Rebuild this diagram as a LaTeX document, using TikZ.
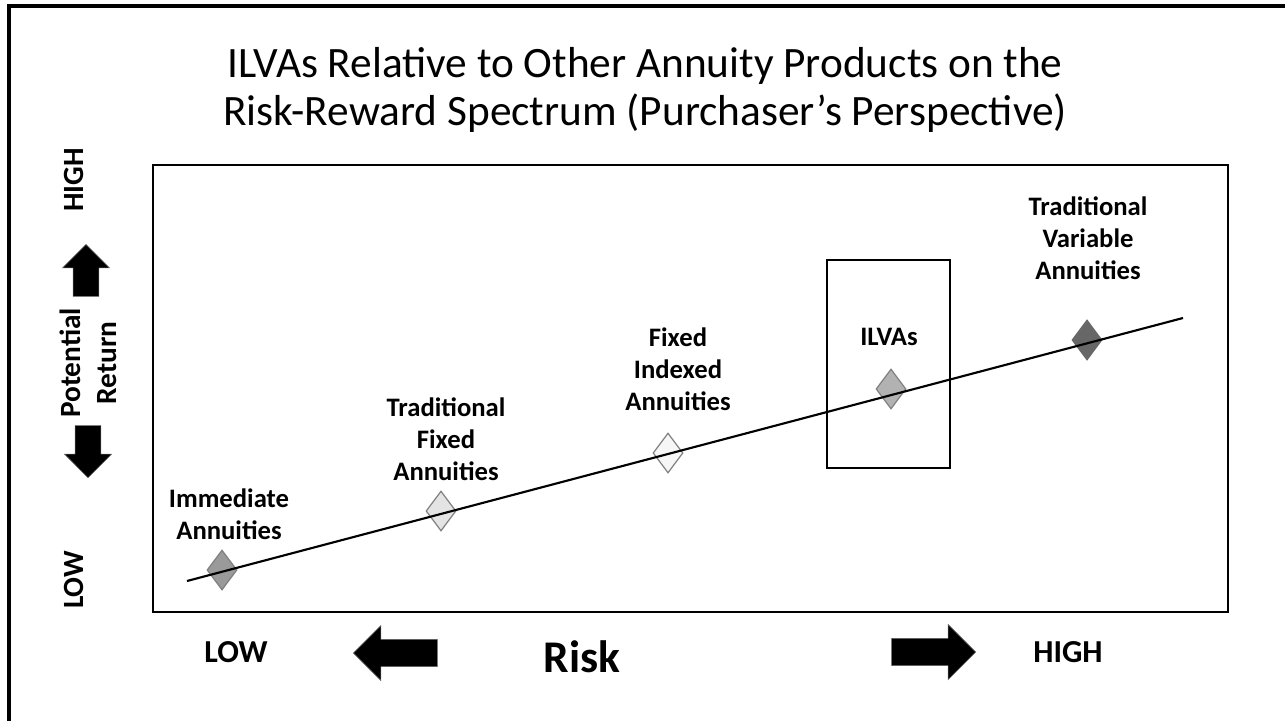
\documentclass[tikz,border=0pt]{standalone}
\usepackage{fontspec}
\setmainfont{Carlito}
\usepackage{xcolor}
\definecolor{immFill}  {HTML}{9A9A9A}
\definecolor{tfaFill}  {HTML}{E4E4E4}
\definecolor{fiaFill}  {HTML}{F6F6F6}
\definecolor{ilvaFill} {HTML}{B2B2B2}
\definecolor{tvaFill}  {HTML}{676767}
\definecolor{edgeGray} {HTML}{7F7F7F}
\usetikzlibrary{shapes.geometric, shapes.arrows}
\tikzset{
    prod/.style={diamond, draw=edgeGray, line width=0.9pt, inner sep=0pt,
                 minimum width=22.5pt, minimum height=30pt},
    lbl/.style={font=\bfseries\fontsize{20}{24}\selectfont, align=center},
    axlbl/.style={font=\bfseries\fontsize{22}{27}\selectfont, align=center, rotate=90},
    risklbl/.style={font=\bfseries\fontsize{24}{28}\selectfont},
    retarrow/.style={single arrow, fill=black, draw=black!60, inner sep=0pt,
                     minimum height=39pt, single arrow head extend=8pt,
                     single arrow head indent=0pt, anchor=tip},
    riskarrow/.style={single arrow, fill=black, draw=black!60, inner sep=0pt,
                      minimum height=63pt, single arrow head extend=10.5pt,
                      single arrow head indent=0pt, anchor=tip},
    frame/.style={draw, line width=1.5pt},
}
\begin{document}
\begin{tikzpicture}[x=0.75pt, y=-0.75pt]
    \useasboundingbox (0,0) rectangle (1285,721);
    % slide edge
    \draw[line width=2.4pt] (9,721) -- (9,6) -- (1285,6);
    % title
    \node[font=\fontsize{32.5}{36}\selectfont, align=center] (title) at (645,90)
        {ILVAs Relative to Other Annuity Products on the\\
         Risk-Reward Spectrum (Purchaser’s Perspective)};
    % plot area
    \node[frame, minimum width=806pt, minimum height=335pt, inner sep=0pt]
        (plot) at (690.5,388.5) {};
    \node[frame, minimum width=92pt, minimum height=156pt, inner sep=0pt]
        (ilvabox) at (888.5,364) {};
    \coordinate (lo) at (187,581);
    \coordinate (hi) at (1183,318);
    % products
    \node[prod, fill=immFill] (imm) at (222,570) {};
    \node[prod, fill=tfaFill] (tfa) at (441,511) {};
    \node[prod, fill=fiaFill] (fia) at (668,453) {};
    \node[prod, fill=ilvaFill] (ilva) at (891,389) {};
    \node[prod, fill=tvaFill, draw=tvaFill] (tva) at (1087,340) {};
    \draw[line width=1.6pt] (lo) -- (hi);
    \node[lbl] (immlbl) at (229,514) {Immediate\\Annuities};
    \node[lbl] (tfalbl) at (446,439) {Traditional\\Fixed\\Annuities};
    \node[lbl] (fialbl) at (678,369) {Fixed\\Indexed\\Annuities};
    \node[lbl] (ilvalbl) at (889,337) {ILVAs};
    \node[lbl] (tvalbl) at (1088,238) {Traditional\\Variable\\Annuities};
    % return axis
    \node[axlbl] (rhigh) at (74,180) {HIGH};
    \node[retarrow, rotate=90] (rup) at (86,244) {\rule{0pt}{19pt}};
    \node[axlbl] (ret) at (88,363) {Potential\\Return};
    \node[retarrow, rotate=-90] (rdown) at (88,478) {\rule{0pt}{19pt}};
    \node[axlbl] (rlow) at (74,580) {LOW};
    % risk axis
    \node[risklbl] (klow) at (236,652) {LOW};
    \node[riskarrow, rotate=180] (kleft) at (353,653) {\rule{0pt}{20pt}};
    \node[font=\bfseries\fontsize{34}{40}\selectfont] (risk) at (582,657) {Risk};
    \node[riskarrow] (kright) at (976,652) {\rule{0pt}{20pt}};
    \node[risklbl] (khigh) at (1068,652) {HIGH};
\end{tikzpicture}
\end{document}
